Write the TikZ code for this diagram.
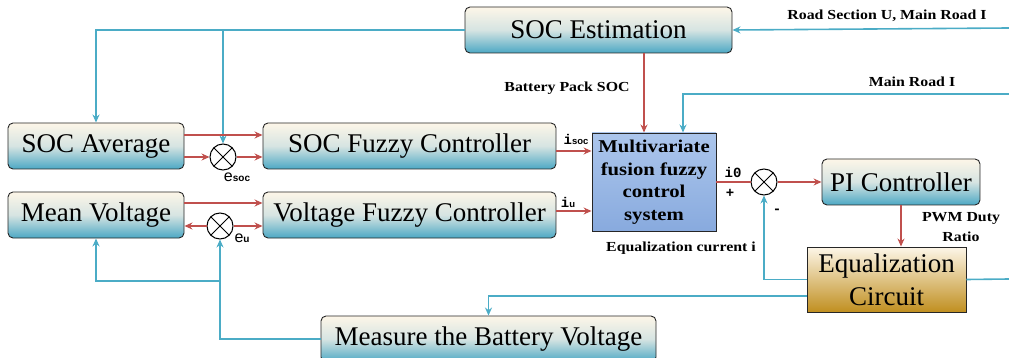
\documentclass[tikz,border=0pt]{standalone}
\usepackage{fontspec}
\setmainfont{Liberation Serif}
\setsansfont{Liberation Sans}
\setmonofont{Liberation Mono}
\newfontfamily\widefont{Liberation Serif}[FakeStretch=1.15]
\usepackage{tikz}
\usetikzlibrary{arrows.meta}

\definecolor{lineblue}{RGB}{75,172,198}
\definecolor{linered}{RGB}{192,80,77}
\definecolor{boxtop}{RGB}{253,246,232}
\definecolor{boxmid}{RGB}{214,228,226}
\definecolor{boxbot}{RGB}{76,168,196}
\definecolor{fusiontop}{RGB}{172,198,236}
\definecolor{fusionbot}{RGB}{136,170,222}
\definecolor{eqbot}{RGB}{192,143,32}

\begin{document}
\begin{tikzpicture}[x=1pt, y=-1pt, line width=1.6pt,
                    >={Stealth[length=8pt,width=7pt]},
                    blk/.style={draw=black!85, line width=0.9pt, rounded corners=5pt,
                                top color=boxtop, bottom color=boxbot, middle color=boxmid,
                                inner sep=0pt, font=\fontsize{27}{29}\selectfont},
                    sumj/.style={draw=black, line width=1pt, circle, minimum size=26pt,
                                 inner sep=0pt, fill=white,
                                 path picture={\draw[line width=1pt]
                                   (path picture bounding box.north west) -- (path picture bounding box.south east)
                                   (path picture bounding box.north east) -- (path picture bounding box.south west);}},
                    lbl/.style={font=\widefont\fontsize{13.8}{20}\selectfont\bfseries, inner sep=0pt, align=center},
                    sig/.style={font=\fontsize{14}{15}\selectfont\ttfamily\bfseries, inner sep=0pt},
                    err/.style={font=\fontsize{16}{16}\selectfont\sffamily, inner sep=0pt},
                    bl/.style={draw=lineblue},
                    rd/.style={draw=linered}]
    \clip (0,0) rectangle (1009,358);

    \node[blk, minimum width=267pt, minimum height=46pt] (est)  at (598.5,30)  {SOC Estimation};
    \node[blk, minimum width=176pt, minimum height=46pt] (avg)  at (96,146)    {SOC Average};
    \node[blk, minimum width=293pt, minimum height=46pt] (sfc)  at (409.5,146) {SOC Fuzzy Controller};
    \node[blk, minimum width=176pt, minimum height=46pt] (mv)   at (96,215)    {Mean Voltage};
    \node[blk, minimum width=293pt, minimum height=46pt] (vfc)  at (409.5,215) {Voltage Fuzzy Controller};
    \node[blk, minimum width=158pt, minimum height=46pt] (pi)   at (901,182)   {PI Controller};
    \node[blk, minimum width=335pt, minimum height=46pt] (meas) at (488.5,339) {Measure the Battery Voltage};
    \node[draw=black!85, line width=0.9pt, top color=fusiontop, bottom color=fusionbot,
          minimum width=124pt, minimum height=98pt, inner sep=0pt, align=center,
          font=\widefont\fontsize{18}{22.5}\selectfont\bfseries] (mfc) at (654,182)
          {Multivariate\\fusion fuzzy\\control\\system};
    \node[draw=black!85, line width=0.9pt, top color=boxtop, bottom color=eqbot,
          minimum width=159pt, minimum height=65pt, inner sep=0pt, align=center,
          font=\fontsize{27}{33}\selectfont] (eq) at (886.5,279.5) {Equalization\\Circuit};

    \node[sumj] (js) at (223,157) {};
    \node[sumj] (ju) at (220,226) {};
    \node[sumj] (jr) at (764,182) {};

    \coordinate (rsin)  at (1009,28);
    \coordinate (mrin)  at (1009,94);
    \coordinate (eqout) at (1009,279);
    \coordinate (socin) at ([xshift=-10pt]mfc.north);
    \coordinate (irin)  at ([xshift=29pt]mfc.north);

    \draw[bl,->] (rsin) -- (est.east);
    \draw[bl,->] (est.west) -| (avg.north);
    \draw[bl,->] (js |- est.west) -- (js.north);
    \draw[bl,->] (mrin) -| (irin);
    \draw[bl,->] (eq.west) -| (jr.south);
    \draw[bl,->] (eq.west |- 0,296) -| (meas.north);
    \draw[bl] (eq.east) -- (eqout);
    \draw[bl,->] (meas.west) -| (ju.south);
    \draw[bl,->] (ju |- 0,281) -| (mv.south);

    \draw[rd,->] (avg.east |- 0,135) -- (sfc.west |- 0,135);
    \draw[rd,->] (avg.east |- js) -- (js.west);
    \draw[rd,->] (js.east) -- (sfc.west |- js);
    \draw[rd,->] (mv.east |- 0,203) -- (vfc.west |- 0,203);
    \draw[rd,->] (ju.west) -- (mv.east |- ju);
    \draw[rd,->] (ju.east) -- (vfc.west |- ju);
    \draw[rd,->] (sfc.east |- 0,151) -- (mfc.west |- 0,151);
    \draw[rd,->] (vfc.east |- 0,211) -- (mfc.west |- 0,211);
    \draw[rd,->] (socin |- est.south) -- (socin);
    \draw[rd] (mfc.east) -- (jr.west);
    \draw[rd,->] (jr.east) -- (pi.west);
    \draw[rd,->] (pi.south) -- (pi.south |- eq.north);

    \node[lbl] (lrs)  at (887,16)  {Road Section U, Main Road I};
    \node[lbl] (lmr)  at (912,82)  {Main Road I};
    \node[lbl] (lbp)  at (567,88)  {Battery Pack SOC};
    \node[lbl] (leq)  at (681,248) {Equalization current i};
    \node[lbl] (lpwm) at (961,227) {PWM Duty\\Ratio};
    \node[sig] (lisoc) at (576,139) {i{\sffamily\bfseries\fontsize{9.5}{9}\selectfont soc}};
    \node[sig] (liu)   at (568,202) {i{\sffamily\bfseries\fontsize{9.5}{9}\selectfont u}};
    \node[sig] (li0)   at (733,172) {i0};
    \node[sig] (lplus) at (730,193) {+};
    \node[sig] (lmin)  at (777,211) {-};
    \node[err] (lesoc) at (237,177) {e{\fontsize{10}{10}\selectfont\bfseries soc}};
    \node[err] (leu)   at (242,238) {e{\fontsize{10}{10}\selectfont\bfseries u}};
\end{tikzpicture}
\end{document}
